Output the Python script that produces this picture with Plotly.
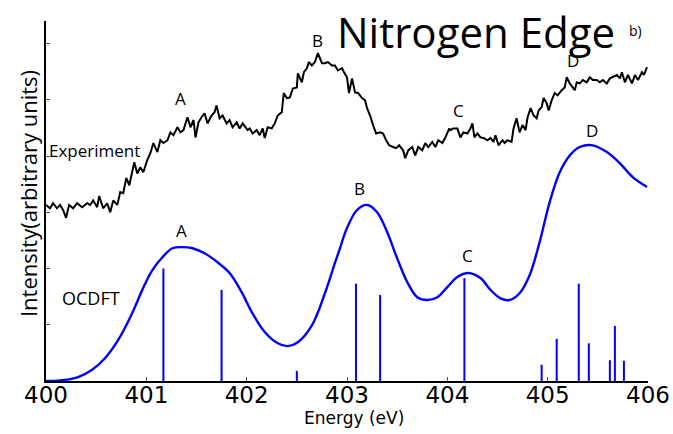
import plotly.graph_objects as go

# ---------------- data ----------------
exp_energy = [400.00,400.04,400.07,400.11,400.14,400.17,400.20,400.23,400.27,400.31,400.36,400.41,400.44,400.47,400.51,400.53,400.57,400.61,400.64,400.67,400.71,400.74,400.77,400.80,400.83,400.86,400.88,400.91,400.94,400.97,401.01,401.04,401.07,401.11,401.14,401.17,401.21,401.24,401.27,401.31,401.34,401.37,401.41,401.44,401.47,401.49,401.52,401.55,401.58,401.61,401.65,401.68,401.70,401.73,401.76,401.80,401.83,401.86,401.90,401.93,401.96,402.01,
              402.03,402.06,402.10,402.13,402.16,402.18,402.21,402.25,402.28,402.31,402.35,402.37,402.40,402.43,402.46,402.50,402.51,402.55,402.57,402.60,402.62,402.65,402.68,402.71,402.75,402.78,402.81,402.85,402.88,402.91,402.95,402.97,403.00,403.02,403.05,403.08,403.11,403.15,403.18,403.20,403.23,403.26,403.29,403.33,403.36,403.39,403.42,403.46,403.49,403.52,403.56,403.58,403.61,403.65,403.68,403.71,403.75,403.78,403.81,403.85,403.88,403.91,403.95,403.98,404.02,
              404.03,404.06,404.10,404.13,404.16,404.20,404.23,404.25,404.27,404.30,404.33,404.36,404.40,404.43,404.46,404.48,404.51,404.55,404.57,404.60,404.64,404.66,404.69,404.72,404.75,404.78,404.80,404.83,404.86,404.89,404.91,404.94,404.96,404.99,405.01,405.04,405.07,405.10,405.14,405.17,405.19,405.22,405.25,405.27,405.29,405.32,405.35,405.39,405.42,405.45,405.49,405.52,405.55,405.59,405.62,405.65,405.69,405.72,405.74,405.77,405.80,405.84,405.87,405.90,405.94,405.96,405.99]
exp_intensity = [3.13,3.07,3.16,3.07,3.13,3.04,2.90,3.13,3.07,3.16,3.09,3.16,3.13,3.21,3.09,3.29,3.07,3.16,3.00,3.21,3.13,3.36,3.34,3.61,3.48,3.75,3.89,3.69,3.80,3.71,3.93,4.05,4.23,4.07,4.28,4.23,4.28,4.42,4.37,4.51,4.42,4.46,4.69,4.51,4.64,4.33,4.60,4.69,4.76,4.58,4.72,4.78,4.90,4.67,4.72,4.58,4.64,4.51,4.60,4.49,4.58,4.46,
                 4.49,4.40,4.46,4.37,4.49,4.32,4.51,4.49,4.58,4.72,4.78,5.12,5.03,5.04,5.20,5.22,5.47,5.31,5.49,5.56,5.67,5.61,5.67,5.83,5.65,5.65,5.67,5.61,5.61,5.52,5.56,5.49,5.40,5.12,5.38,5.13,5.12,5.03,4.99,4.85,4.72,4.55,4.40,4.42,4.40,4.28,4.19,4.16,4.14,4.19,4.10,3.96,4.10,4.16,4.01,4.16,4.10,4.23,4.16,4.25,4.16,4.28,4.23,4.33,4.49,
                 4.46,4.49,4.49,4.33,4.42,4.40,4.49,4.58,4.33,4.40,4.33,4.32,4.28,4.32,4.25,4.37,4.19,4.28,4.23,4.28,4.25,4.49,4.67,4.42,4.55,4.46,4.69,4.85,4.72,4.67,4.81,4.87,5.03,4.94,4.81,4.99,5.12,5.08,5.17,5.22,5.40,5.29,5.22,5.17,5.31,5.29,5.35,5.31,5.40,5.35,5.35,5.31,5.35,5.29,5.38,5.40,5.44,5.38,5.49,5.31,5.44,5.29,5.44,5.35,5.49,5.44,5.58]

calc_energy = [400.00,400.19,400.32,400.46,400.59,400.72,400.86,400.96,401.06,401.16,401.26,401.36,401.46,401.58,401.71,401.83,401.95,402.05,402.18,402.31,402.41,402.51,402.65,402.78,402.88,402.93,403.00,403.10,403.20,403.30,403.40,403.50,403.60,403.70,403.80,403.90,404.00,404.10,404.21,404.33,404.43,404.53,404.62,404.72,404.82,404.92,405.02,405.12,405.22,405.32,405.45,405.59,405.72,405.85,405.99]
calc_intensity = [0.00,0.02,0.07,0.20,0.41,0.73,1.21,1.62,1.97,2.20,2.36,2.38,2.36,2.27,2.11,1.92,1.58,1.23,0.87,0.67,0.62,0.69,0.99,1.56,2.10,2.36,2.72,3.04,3.13,3.00,2.65,2.18,1.76,1.49,1.44,1.49,1.67,1.85,1.92,1.83,1.62,1.47,1.44,1.56,1.88,2.47,3.18,3.71,4.01,4.16,4.19,4.07,3.87,3.62,3.45]

stick_energy = [401.17,401.75,402.50,403.09,403.33,404.17,404.94,405.09,405.31,405.41,405.62,405.67,405.76]
stick_height = [2.00,1.62,0.18,1.73,1.53,1.83,0.29,0.75,1.73,0.67,0.37,0.98,0.36]

exp_labels = ["A","B","C","D"]
exp_label_energy = [401.34,402.71,404.11,405.25]
exp_label_intensity = [5.03,6.06,4.81,5.70]
calc_label_energy = [401.35,403.12,404.20,405.44]
calc_label_intensity = [2.68,3.43,2.24,4.46]

x_ticks = [400,401,402,403,404,405,406]
y_ticks = [0,1,2,3,4,5,6]

BLUE = "#0000ff"
FONT = "Open Sans"
FONT2 = "DejaVu Sans"

fig = go.Figure()

fig.add_trace(go.Scatter(x=exp_energy, y=exp_intensity, mode="lines",
                         line=dict(color="black", width=2), showlegend=False,
                         name="Experiment"))
fig.add_trace(go.Scatter(x=calc_energy, y=calc_intensity, mode="lines",
                         line=dict(color=BLUE, width=2.4, shape="spline", smoothing=1.0),
                         showlegend=False, name="OCDFT"))

sx, sy = [], []
for e, h in zip(stick_energy, stick_height):
    sx += [e, e, None]
    sy += [0, h, None]
fig.add_trace(go.Scatter(x=sx, y=sy, mode="lines", line=dict(color=BLUE, width=2),
                         showlegend=False, name="sticks"))

for t, e, i in zip(exp_labels, exp_label_energy, exp_label_intensity):
    fig.add_annotation(x=e, y=i, text=t, showarrow=False,
                       font=dict(family=FONT, size=17, color="black"))
for t, e, i in zip(exp_labels, calc_label_energy, calc_label_intensity):
    fig.add_annotation(x=e, y=i, text=t, showarrow=False,
                       font=dict(family=FONT, size=17, color="black"))

fig.add_annotation(x=400.01, y=4.10, text="Experiment", showarrow=False, xanchor="left",
                   font=dict(family=FONT, size=17, color="black"))
fig.add_annotation(x=400.14, y=1.47, text="OCDFT", showarrow=False, xanchor="left",
                   font=dict(family=FONT, size=18, color="black"))

fig.add_annotation(xref="paper", yref="paper", x=0.48, y=1.055, yanchor="top", xanchor="left",
                   text="Nitrogen Edge", showarrow=False,
                   font=dict(family=FONT, size=42, color="black"))
fig.add_annotation(xref="paper", yref="paper", x=0.965, y=0.975, xanchor="left", yanchor="middle",
                   text="b)", showarrow=False,
                   font=dict(family=FONT, size=14, color="black"))

# axis titles as annotations
fig.add_annotation(xref="paper", yref="paper", x=0.512, y=-0.104, xanchor="center",
                   yanchor="middle", text="Energy (eV)", showarrow=False,
                   font=dict(family=FONT2, size=17, color="black"))
fig.add_annotation(xref="paper", yref="paper", x=-0.03, y=0.522, xanchor="center",
                   yanchor="middle", text="Intensity(arbitrary units)", textangle=-90,
                   showarrow=False, font=dict(family=FONT, size=22, color="black"))

fig.update_layout(
    width=673, height=434,
    margin=dict(l=46, r=25, t=21, b=53),
    plot_bgcolor="white", paper_bgcolor="white",
    font=dict(family=FONT, color="black"),
)
fig.update_xaxes(range=[400, 406], tickvals=x_ticks, ticks="inside", ticklen=4,
                 tickcolor="#555", showline=True, linecolor="black", linewidth=1.5,
                 showgrid=False, zeroline=False, automargin=False, ticklabelstandoff=-7,
                 tickfont=dict(family=FONT2, size=23, color="black"))
fig.update_yaxes(range=[0, 6.4], tickvals=y_ticks, ticks="inside", ticklen=4,
                 tickcolor="#555", showticklabels=False, showline=True, linecolor="black",
                 linewidth=1.5, showgrid=False, zeroline=False, automargin=False)

fig.write_html("out.html", config={"displayModeBar": False},
               post_script="document.body.style.margin='0';document.body.style.overflow='hidden';")
